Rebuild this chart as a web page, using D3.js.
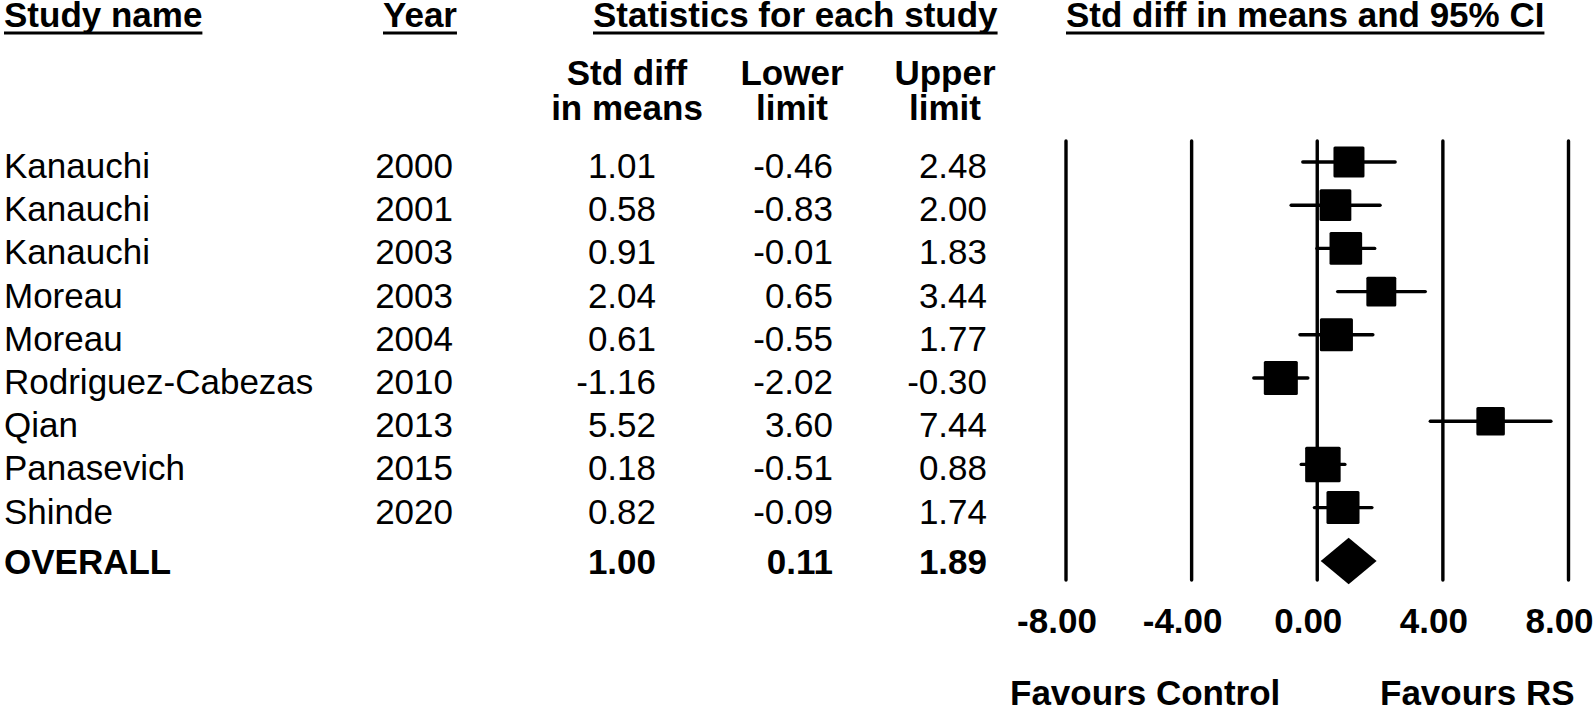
<!DOCTYPE html>
<html>
<head>
<meta charset="utf-8">
<script src="https://cdn.jsdelivr.net/npm/d3@7"></script>
<style>
  body { margin: 0; background: #fff; }
  svg { display: block; font-family: "Liberation Sans", Arial, sans-serif; }
</style>
</head>
<body>
<div id="chart"></div>
<script>
// study table
var studies = ["Kanauchi", "Kanauchi", "Kanauchi", "Moreau", "Moreau",
               "Rodriguez-Cabezas", "Qian", "Panasevich", "Shinde"];
var years = ["2000", "2001", "2003", "2003", "2004", "2010", "2013", "2015", "2020"];
var smd   = [1.01, 0.58, 0.91, 2.04, 0.61, -1.16, 5.52, 0.18, 0.82];
var lower = [-0.46, -0.83, -0.01, 0.65, -0.55, -2.02, 3.60, -0.51, -0.09];
var upper = [2.48, 2.00, 1.83, 3.44, 1.77, -0.30, 7.44, 0.88, 1.74];
// relative weights (%)
var weights = [10.3, 10.8, 11.4, 9.6, 11.7, 12.4, 8.7, 13.5, 11.7];

// pooled result
var overall = { label: "OVERALL", smd: 1.00, lower: 0.11, upper: 1.89 };

// axis
var ticks = [-8, -4, 0, 4, 8];
var favours = ["Favours Control", "Favours RS"];

var W = 1594, H = 710;

var svg = d3.select("#chart").append("svg")
    .attr("width", W)
    .attr("height", H);

// scales
var x = d3.scaleLinear().domain([-8, 8]).range([1066, 1568.5]);
var y = d3.scalePoint().domain(d3.range(studies.length)).range([162, 507.6]);
var yOverall = 561;
var boxSide = d3.scaleSqrt().domain([0, 13.5]).range([0, 35.5]);

// plain hyphen for negatives, like the original
function fmt(v) { return v.toFixed(2); }

function label(g, txt, px, py, anchor, bold) {
    return g.append("text")
        .attr("x", px).attr("y", py)
        .attr("text-anchor", anchor || "start")
        .attr("font-size", 35)
        .attr("font-weight", bold ? "bold" : "normal")
        .attr("fill", "#000")
        .text(txt);
}

function underlined(g, txt, px, py) {
    var t = label(g, txt, px, py, "start", true);
    var len = t.node().getComputedTextLength();
    g.append("line")
        .attr("x1", px).attr("x2", px + len)
        .attr("y1", py + 6).attr("y2", py + 6)
        .attr("stroke", "#000").attr("stroke-width", 3.2);
}

// ---------------------------------------------------------------------
// headers
var head = svg.append("g").attr("class", "headers");
underlined(head, "Study name", 4, 27);
underlined(head, "Year", 383, 27);
underlined(head, "Statistics for each study", 593, 27);
underlined(head, "Std diff in means and 95% CI", 1066, 27);

var sub = [["Std diff", "in means", 627], ["Lower", "limit", 792], ["Upper", "limit", 945]];
sub.forEach(function(s) {
    label(head, s[0], s[2], 85, "middle", true);
    label(head, s[1], s[2], 120, "middle", true);
});

// ---------------------------------------------------------------------
// table rows
var tbl = svg.append("g").attr("class", "table");
studies.forEach(function(name, i) {
    var by = y(i) + 16;
    label(tbl, name, 4, by);
    label(tbl, years[i], 453, by, "end");
    label(tbl, fmt(smd[i]), 656, by, "end");
    label(tbl, fmt(lower[i]), 833, by, "end");
    label(tbl, fmt(upper[i]), 987, by, "end");
});
label(tbl, overall.label, 4, yOverall + 12.5, "start", true);
label(tbl, fmt(overall.smd), 656, yOverall + 12.5, "end", true);
label(tbl, fmt(overall.lower), 833, yOverall + 12.5, "end", true);
label(tbl, fmt(overall.upper), 987, yOverall + 12.5, "end", true);

// ---------------------------------------------------------------------
// forest plot
var plot = svg.append("g").attr("class", "plot");

plot.selectAll("line.grid")
    .data(ticks)
  .enter().append("line")
    .attr("class", "grid")
    .attr("x1", function(d) { return x(d); })
    .attr("x2", function(d) { return x(d); })
    .attr("y1", 141).attr("y2", 580)
    .attr("stroke", "#000").attr("stroke-width", 3.4)
    .attr("stroke-linecap", "round");

var rows = d3.range(studies.length);

plot.selectAll("line.ci")
    .data(rows)
  .enter().append("line")
    .attr("class", "ci")
    .attr("x1", function(i) { return x(lower[i]); })
    .attr("x2", function(i) { return x(upper[i]); })
    .attr("y1", function(i) { return y(i); })
    .attr("y2", function(i) { return y(i); })
    .attr("stroke", "#000").attr("stroke-width", 3.4)
    .attr("stroke-linecap", "round");

plot.selectAll("rect.box")
    .data(rows)
  .enter().append("rect")
    .attr("class", "box")
    .attr("x", function(i) { return x(smd[i]) - boxSide(weights[i]) / 2; })
    .attr("y", function(i) { return y(i) - boxSide(weights[i]) / 2; })
    .attr("width", function(i) { return boxSide(weights[i]); })
    .attr("height", function(i) { return boxSide(weights[i]); })
    .attr("rx", 1.5)
    .attr("fill", "#000");

// summary diamond
var dh = 23.3;
plot.append("path")
    .attr("d", d3.line()([
        [x(overall.lower), yOverall],
        [x(overall.smd), yOverall - dh],
        [x(overall.upper), yOverall],
        [x(overall.smd), yOverall + dh]
    ]) + "Z")
    .attr("fill", "#000");

// tick labels (sit slightly left of their lines in the original)
plot.selectAll("text.tick")
    .data(ticks)
  .enter().append("text")
    .attr("class", "tick")
    .attr("x", function(d) { return x(d) - 9; })
    .attr("y", 633)
    .attr("text-anchor", "middle")
    .attr("font-size", 35)
    .attr("font-weight", "bold")
    .text(function(d) { return fmt(d); });

label(plot, favours[0], 1010, 705, "start", true);
label(plot, favours[1], 1380, 705, "start", true);
</script>
</body>
</html>
